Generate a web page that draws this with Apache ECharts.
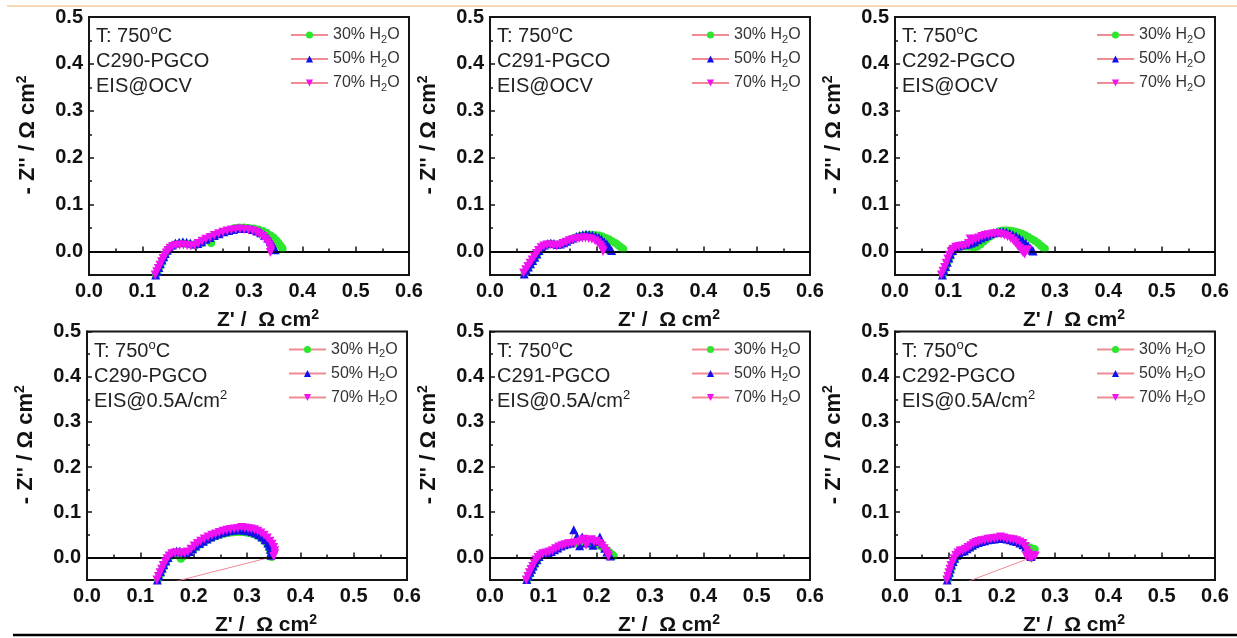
<!DOCTYPE html>
<html><head><meta charset="utf-8">
<script src="https://cdn.jsdelivr.net/npm/echarts@6/dist/echarts.min.js"></script>
<style>html,body{margin:0;padding:0;background:#fff}#c{width:1237px;height:638px}</style>
</head><body><div id="c"></div>
<script>
// ---------- labels ----------
const seriesNames = ['30% H2O', '50% H2O', '70% H2O'];
const sampleNames = ['C290-PGCO', 'C291-PGCO', 'C292-PGCO'];
const conditionLabels = ['EIS@OCV', 'EIS@0.5A/cm{sup|2}'];
const temperatureLabel = 'T: 750{sup|o}C';
const xAxisTitle = "Z' /  Ω cm{sup|2}";
const yAxisTitle = "- Z'' / Ω cm{sup|2}";
const yMajorTicks = [0, 0.1, 0.2, 0.3, 0.4, 0.5];
const yMinorTicks = [0.05, 0.15, 0.25, 0.35, 0.45];

// ---------- data: [Z', -Z''] ----------
const C290_OCV_30 = [[0.126,-0.050],[0.129,-0.042],[0.132,-0.034],[0.135,-0.026],[0.138,-0.018],[0.141,-0.011],[0.144,-0.004],[0.148,0.003],[0.152,0.009],[0.157,0.013],[0.163,0.016],[0.170,0.017],[0.177,0.017],[0.184,0.016],[0.191,0.015],[0.198,0.014],[0.205,0.016],[0.213,0.019],[0.229,0.018],[0.221,0.025],[0.229,0.030],[0.237,0.034],[0.246,0.038],[0.255,0.042],[0.264,0.046],[0.273,0.050],[0.282,0.051],[0.291,0.051],[0.300,0.050],[0.309,0.049],[0.318,0.047],[0.326,0.044],[0.333,0.040],[0.340,0.035],[0.346,0.030],[0.351,0.024],[0.355,0.019],[0.358,0.014],[0.361,0.009],[0.363,0.006]];
const C290_OCV_50 = [[0.125,-0.050],[0.128,-0.042],[0.131,-0.034],[0.134,-0.026],[0.137,-0.018],[0.140,-0.011],[0.143,-0.004],[0.147,0.003],[0.151,0.009],[0.156,0.014],[0.162,0.018],[0.169,0.020],[0.176,0.021],[0.183,0.020],[0.190,0.018],[0.197,0.016],[0.204,0.017],[0.211,0.021],[0.219,0.026],[0.227,0.030],[0.235,0.034],[0.244,0.038],[0.253,0.042],[0.262,0.045],[0.271,0.047],[0.280,0.049],[0.289,0.049],[0.298,0.049],[0.307,0.047],[0.315,0.044],[0.322,0.040],[0.329,0.035],[0.335,0.029],[0.340,0.022],[0.344,0.015],[0.347,0.009],[0.349,0.004]];
const C290_OCV_70 = [[0.124,-0.050],[0.127,-0.043],[0.130,-0.036],[0.133,-0.029],[0.136,-0.022],[0.139,-0.015],[0.142,-0.009],[0.145,-0.003],[0.148,0.002],[0.152,0.007],[0.157,0.011],[0.163,0.013],[0.170,0.014],[0.177,0.014],[0.184,0.013],[0.191,0.012],[0.198,0.013],[0.205,0.017],[0.212,0.022],[0.219,0.026],[0.227,0.030],[0.235,0.034],[0.243,0.038],[0.251,0.041],[0.259,0.044],[0.267,0.046],[0.275,0.047],[0.283,0.048],[0.291,0.047],[0.299,0.046],[0.307,0.044],[0.314,0.041],[0.320,0.037],[0.326,0.032],[0.331,0.026],[0.335,0.020],[0.338,0.014],[0.340,0.008],[0.341,0.003],[0.340,-0.002]];

const C291_OCV_30 = [[0.065,-0.047],[0.069,-0.039],[0.073,-0.032],[0.077,-0.025],[0.081,-0.018],[0.085,-0.011],[0.089,-0.004],[0.093,0.003],[0.098,0.009],[0.103,0.013],[0.109,0.015],[0.115,0.016],[0.121,0.015],[0.127,0.014],[0.133,0.016],[0.139,0.019],[0.145,0.022],[0.151,0.025],[0.157,0.028],[0.163,0.031],[0.169,0.033],[0.175,0.034],[0.181,0.035],[0.187,0.036],[0.193,0.036],[0.199,0.035],[0.205,0.034],[0.211,0.032],[0.217,0.029],[0.223,0.026],[0.229,0.022],[0.235,0.018],[0.240,0.014],[0.244,0.010],[0.248,0.007],[0.250,0.005]];
const C291_OCV_50 = [[0.064,-0.048],[0.068,-0.040],[0.072,-0.033],[0.076,-0.026],[0.080,-0.019],[0.084,-0.012],[0.088,-0.005],[0.092,0.002],[0.097,0.009],[0.102,0.014],[0.108,0.017],[0.114,0.018],[0.120,0.017],[0.126,0.015],[0.132,0.016],[0.138,0.019],[0.144,0.022],[0.150,0.026],[0.156,0.029],[0.162,0.032],[0.168,0.034],[0.174,0.036],[0.180,0.037],[0.186,0.036],[0.192,0.035],[0.198,0.033],[0.204,0.030],[0.209,0.026],[0.214,0.021],[0.219,0.016],[0.223,0.010],[0.226,0.005],[0.228,0.002]];
const C291_OCV_70 = [[0.063,-0.046],[0.067,-0.039],[0.071,-0.032],[0.075,-0.025],[0.079,-0.018],[0.083,-0.011],[0.087,-0.004],[0.091,0.002],[0.096,0.008],[0.101,0.012],[0.107,0.014],[0.113,0.014],[0.119,0.013],[0.125,0.012],[0.131,0.014],[0.137,0.017],[0.143,0.020],[0.149,0.023],[0.155,0.025],[0.161,0.027],[0.167,0.028],[0.173,0.029],[0.179,0.029],[0.185,0.028],[0.191,0.026],[0.197,0.023],[0.202,0.019],[0.206,0.014],[0.209,0.009],[0.211,0.004],[0.212,0.000]];

const C292_OCV_30 = [[0.090,-0.049],[0.093,-0.040],[0.096,-0.031],[0.099,-0.022],[0.102,-0.013],[0.105,-0.005],[0.109,0.002],[0.114,0.007],[0.120,0.010],[0.127,0.011],[0.134,0.011],[0.141,0.010],[0.148,0.009],[0.154,0.010],[0.160,0.015],[0.166,0.021],[0.172,0.027],[0.178,0.032],[0.184,0.036],[0.190,0.040],[0.196,0.043],[0.202,0.045],[0.208,0.045],[0.214,0.045],[0.220,0.044],[0.226,0.042],[0.232,0.040],[0.238,0.038],[0.244,0.035],[0.250,0.031],[0.256,0.027],[0.262,0.023],[0.268,0.018],[0.273,0.013],[0.277,0.009],[0.281,0.006]];
const C292_OCV_50 = [[0.089,-0.050],[0.092,-0.041],[0.095,-0.032],[0.098,-0.023],[0.101,-0.014],[0.104,-0.006],[0.108,0.002],[0.113,0.008],[0.119,0.012],[0.125,0.014],[0.131,0.015],[0.137,0.016],[0.143,0.018],[0.149,0.021],[0.155,0.025],[0.161,0.029],[0.167,0.032],[0.173,0.035],[0.179,0.038],[0.185,0.040],[0.191,0.041],[0.197,0.042],[0.203,0.042],[0.209,0.041],[0.215,0.039],[0.221,0.036],[0.227,0.033],[0.233,0.029],[0.239,0.024],[0.245,0.018],[0.250,0.012],[0.254,0.007],[0.257,0.003],[0.259,0.001]];
const C292_OCV_70 = [[0.087,-0.050],[0.090,-0.042],[0.093,-0.034],[0.096,-0.025],[0.099,-0.016],[0.102,-0.008],[0.105,-0.001],[0.109,0.005],[0.114,0.009],[0.120,0.011],[0.126,0.012],[0.132,0.013],[0.138,0.017],[0.141,0.027],[0.145,0.022],[0.151,0.026],[0.157,0.029],[0.163,0.032],[0.169,0.034],[0.175,0.036],[0.181,0.037],[0.187,0.038],[0.193,0.038],[0.199,0.037],[0.205,0.035],[0.211,0.032],[0.217,0.028],[0.222,0.023],[0.226,0.018],[0.230,0.012],[0.234,0.007],[0.237,0.002],[0.240,-0.002],[0.243,-0.005],[0.246,0.001],[0.249,0.004]];

const C290_05A_30 = [[0.133,-0.050],[0.136,-0.041],[0.139,-0.032],[0.142,-0.024],[0.145,-0.016],[0.149,-0.008],[0.153,-0.001],[0.158,0.004],[0.164,0.006],[0.170,0.004],[0.176,-0.003],[0.182,0.003],[0.188,0.008],[0.194,0.013],[0.200,0.019],[0.207,0.025],[0.214,0.030],[0.221,0.035],[0.228,0.040],[0.235,0.044],[0.242,0.047],[0.249,0.050],[0.256,0.052],[0.263,0.054],[0.270,0.055],[0.277,0.056],[0.284,0.056],[0.291,0.056],[0.298,0.055],[0.305,0.054],[0.312,0.052],[0.318,0.049],[0.324,0.045],[0.330,0.040],[0.335,0.034],[0.339,0.027],[0.342,0.020],[0.344,0.013],[0.345,0.006],[0.346,0.001],[0.010,-0.100]];
const C290_05A_50 = [[0.132,-0.050],[0.135,-0.041],[0.138,-0.032],[0.141,-0.024],[0.144,-0.016],[0.148,-0.008],[0.152,0.000],[0.157,0.007],[0.162,0.012],[0.168,0.014],[0.174,0.014],[0.180,0.012],[0.186,0.010],[0.192,0.013],[0.198,0.019],[0.204,0.025],[0.211,0.031],[0.218,0.036],[0.225,0.041],[0.232,0.045],[0.239,0.049],[0.246,0.052],[0.253,0.055],[0.260,0.057],[0.267,0.059],[0.274,0.060],[0.281,0.061],[0.288,0.061],[0.295,0.060],[0.302,0.059],[0.309,0.057],[0.316,0.054],[0.322,0.050],[0.328,0.045],[0.334,0.039],[0.339,0.032],[0.342,0.025],[0.344,0.018],[0.345,0.011],[0.345,0.005]];
const C290_05A_70 = [[0.131,-0.050],[0.134,-0.042],[0.137,-0.034],[0.140,-0.026],[0.143,-0.018],[0.147,-0.010],[0.150,-0.003],[0.154,0.003],[0.159,0.008],[0.165,0.010],[0.171,0.010],[0.177,0.009],[0.183,0.009],[0.189,0.012],[0.195,0.018],[0.201,0.025],[0.207,0.031],[0.213,0.036],[0.220,0.041],[0.227,0.045],[0.234,0.049],[0.241,0.052],[0.248,0.055],[0.255,0.058],[0.262,0.060],[0.269,0.062],[0.276,0.063],[0.283,0.064],[0.290,0.066],[0.296,0.065],[0.302,0.064],[0.308,0.063],[0.314,0.061],[0.320,0.058],[0.326,0.054],[0.332,0.049],[0.338,0.043],[0.343,0.036],[0.347,0.029],[0.350,0.022],[0.352,0.015],[0.352,0.008],[0.350,0.002]];

const C291_05A_30 = [[0.070,-0.049],[0.073,-0.041],[0.076,-0.033],[0.079,-0.026],[0.082,-0.019],[0.085,-0.012],[0.089,-0.005],[0.093,0.001],[0.098,0.006],[0.104,0.009],[0.110,0.011],[0.116,0.014],[0.122,0.018],[0.128,0.022],[0.134,0.025],[0.140,0.027],[0.146,0.029],[0.152,0.030],[0.158,0.031],[0.164,0.032],[0.170,0.033],[0.176,0.033],[0.182,0.033],[0.188,0.032],[0.194,0.031],[0.200,0.029],[0.206,0.026],[0.212,0.022],[0.218,0.017],[0.223,0.012],[0.227,0.008],[0.230,0.005],[0.232,0.003]];
const C291_05A_50 = [[0.069,-0.049],[0.072,-0.041],[0.075,-0.033],[0.078,-0.026],[0.081,-0.019],[0.084,-0.012],[0.088,-0.005],[0.092,0.002],[0.097,0.007],[0.103,0.010],[0.109,0.011],[0.115,0.013],[0.121,0.017],[0.127,0.021],[0.133,0.025],[0.139,0.028],[0.145,0.030],[0.151,0.032],[0.157,0.061],[0.163,0.047],[0.168,0.026],[0.173,0.045],[0.180,0.032],[0.187,0.038],[0.193,0.027],[0.199,0.035],[0.206,0.045],[0.211,0.030],[0.215,0.020],[0.219,0.012],[0.223,0.006],[0.226,0.003]];
const C291_05A_70 = [[0.068,-0.050],[0.071,-0.042],[0.074,-0.034],[0.077,-0.027],[0.080,-0.020],[0.083,-0.013],[0.086,-0.006],[0.090,0.000],[0.094,0.005],[0.099,0.008],[0.105,0.010],[0.111,0.012],[0.117,0.015],[0.123,0.019],[0.129,0.023],[0.135,0.026],[0.141,0.028],[0.147,0.030],[0.153,0.031],[0.159,0.032],[0.165,0.033],[0.171,0.036],[0.176,0.040],[0.180,0.027],[0.185,0.035],[0.190,0.039],[0.195,0.034],[0.200,0.036],[0.205,0.031],[0.210,0.025],[0.214,0.019],[0.218,0.013],[0.221,0.007],[0.222,0.002]];

const C292_05A_30 = [[0.099,-0.050],[0.101,-0.041],[0.103,-0.033],[0.105,-0.025],[0.107,-0.017],[0.110,-0.009],[0.113,-0.002],[0.117,0.004],[0.121,0.009],[0.126,0.012],[0.131,0.014],[0.136,0.018],[0.141,0.022],[0.146,0.026],[0.151,0.029],[0.157,0.032],[0.163,0.034],[0.169,0.036],[0.175,0.038],[0.181,0.039],[0.187,0.040],[0.193,0.041],[0.199,0.041],[0.205,0.041],[0.211,0.040],[0.217,0.038],[0.223,0.036],[0.229,0.034],[0.235,0.031],[0.241,0.028],[0.247,0.025],[0.253,0.022],[0.259,0.019],[0.262,0.018],[0.256,0.000],[0.032,-0.100]];
const C292_05A_50 = [[0.098,-0.050],[0.100,-0.041],[0.102,-0.033],[0.104,-0.025],[0.106,-0.017],[0.109,-0.009],[0.112,-0.002],[0.116,0.005],[0.120,0.010],[0.125,0.013],[0.130,0.015],[0.135,0.019],[0.140,0.023],[0.145,0.027],[0.150,0.030],[0.156,0.033],[0.162,0.035],[0.168,0.037],[0.174,0.039],[0.180,0.040],[0.186,0.041],[0.192,0.042],[0.198,0.042],[0.204,0.042],[0.210,0.041],[0.216,0.039],[0.222,0.037],[0.228,0.035],[0.234,0.032],[0.240,0.028],[0.245,0.023],[0.249,0.017],[0.252,0.011],[0.254,0.006],[0.255,0.002]];
const C292_05A_70 = [[0.097,-0.050],[0.099,-0.042],[0.101,-0.034],[0.103,-0.026],[0.105,-0.018],[0.108,-0.010],[0.111,-0.003],[0.114,0.004],[0.118,0.010],[0.122,0.014],[0.127,0.015],[0.132,0.018],[0.137,0.022],[0.142,0.026],[0.147,0.030],[0.152,0.033],[0.157,0.035],[0.162,0.037],[0.168,0.038],[0.174,0.040],[0.180,0.041],[0.186,0.042],[0.192,0.043],[0.198,0.045],[0.204,0.043],[0.210,0.041],[0.216,0.040],[0.222,0.039],[0.228,0.037],[0.234,0.034],[0.240,0.031],[0.244,0.024],[0.247,0.016],[0.250,0.009],[0.246,0.003],[0.252,0.000],[0.258,0.005],[0.263,0.003],[0.256,-0.002]];

const panelData = [
  [C290_OCV_30, C290_OCV_50, C290_OCV_70],
  [C291_OCV_30, C291_OCV_50, C291_OCV_70],
  [C292_OCV_30, C292_OCV_50, C292_OCV_70],
  [C290_05A_30, C290_05A_50, C290_05A_70],
  [C291_05A_30, C291_05A_50, C291_05A_70],
  [C292_05A_30, C292_05A_50, C292_05A_70]
];

// ---------- layout & style ----------
const FONT = '"Liberation Sans", Arial, Helvetica, sans-serif';
const AX = '#151515';
const colors = ['#2ee62e', '#1212e8', '#f012f0'];
const symbols = ['circle', 'triangle', 'triangle'];
const symbolRotates = [0, 0, 180];
const symbolSizes = [8, 9, 9];
const lineColor = '#f08a95';
const layout = [
  {left: 89, top: 17, width: 320, height: 258},
  {left: 490, top: 17, width: 320, height: 258},
  {left: 895, top: 17, width: 320, height: 258},
  {left: 87, top: 331.5, width: 320, height: 256},
  {left: 490, top: 331.5, width: 320, height: 256},
  {left: 895, top: 331.5, width: 320, height: 256}
];

const supRich = (size) => ({fontSize: size, lineHeight: size, verticalAlign: 'top', fontFamily: FONT});
const grids = [], xAxes = [], yAxes = [], series = [], legends = [], titles = [];

layout.forEach((g, i) => {
  const row = Math.floor(i / 3), col = i % 3;
  grids.push({left: g.left, top: g.top, width: g.width, height: g.height,
    show: true, borderColor: AX, borderWidth: 2, backgroundColor: 'transparent'});
  xAxes.push({
    gridIndex: i, type: 'value', min: 0, max: 0.6, interval: 0.1,
    axisLine: {show: true, lineStyle: {color: AX, width: 2}},
    axisTick: {show: true, inside: true, length: 5, lineStyle: {color: AX, width: 1.5}},
    minorTick: {show: true, splitNumber: 2, length: 3, lineStyle: {color: AX, width: 1.5}},
    splitLine: {show: false}, minorSplitLine: {show: false},
    axisLabel: {margin: 6, fontSize: 20, fontWeight: 'bold', color: '#111', fontFamily: FONT,
      formatter: v => v.toFixed(1)},
    name: xAxisTitle, nameLocation: 'middle', nameGap: 33,
    nameTextStyle: {fontSize: 21, fontWeight: 'bold', color: '#111', fontFamily: FONT, lineHeight: 24,
      padding: [0, 0, 0, 38],
      rich: {sup: Object.assign(supRich(14), {fontWeight: 'bold', color: '#111'})}}
  });
  yAxes.push({
    gridIndex: i, type: 'value', min: -0.05, max: 0.5, position: 'left',
    axisLine: {show: true, lineStyle: {color: AX, width: 2}},
    axisTick: {show: true, inside: true, length: 5, customValues: yMajorTicks, lineStyle: {color: AX, width: 1.5}},
    splitLine: {show: false},
    axisLabel: {margin: 6, customValues: yMajorTicks, fontSize: 20, fontWeight: 'bold', color: '#111', fontFamily: FONT,
      formatter: v => v.toFixed(1)},
    name: yAxisTitle, nameLocation: 'middle', nameGap: 48, nameRotate: 90,
    nameTextStyle: {fontSize: 22, fontWeight: 'bold', color: '#111', fontFamily: FONT, lineHeight: 26,
      padding: [0, 0, 0, 22],
      rich: {sup: Object.assign(supRich(14), {fontWeight: 'bold', color: '#111'})}}
  });
  yAxes.push({
    gridIndex: i, type: 'value', min: -0.05, max: 0.5, position: 'left',
    axisLine: {show: false},
    axisTick: {show: true, inside: true, length: 3, customValues: yMinorTicks, lineStyle: {color: AX, width: 1.5}},
    axisLabel: {show: false}, splitLine: {show: false}
  });
  panelData[i].forEach((d, k) => {
    const s = {
      type: 'line', name: seriesNames[k], xAxisIndex: i, yAxisIndex: 2 * i, data: d,
      symbol: symbols[k], symbolRotate: symbolRotates[k], symbolSize: symbolSizes[k],
      showAllSymbol: true, clip: true, animation: false, silent: true,
      itemStyle: {color: colors[k]}, lineStyle: {color: lineColor, width: 1}, z: 3 + k
    };
    if (k === 0) {
      s.markLine = {silent: true, symbol: 'none', animation: false, label: {show: false},
        lineStyle: {color: '#000', width: 1.5, type: 'solid'}, data: [{yAxis: 0}]};
    }
    series.push(s);
  });
  legends.push({
    left: g.left + 201, top: g.top + 8, orient: 'vertical', padding: 0,
    itemWidth: 37, itemHeight: 9, itemGap: 4, selectedMode: false, data: seriesNames,
    formatter: n => n.replace('H2O', 'H{sub|2}O'),
    textStyle: {fontSize: 16, color: '#333', fontFamily: FONT, lineHeight: 20,
      rich: {sub: {fontSize: 11, lineHeight: 11, verticalAlign: 'bottom', color: '#333', fontFamily: FONT}}}
  });
  titles.push({
    left: g.left + 7, top: g.top + 7, padding: 0,
    text: temperatureLabel + '\n' + sampleNames[col] + '\n' + conditionLabels[row],
    textStyle: {fontSize: 20, fontWeight: 'normal', color: '#222', fontFamily: FONT, lineHeight: 25,
      rich: {sup: Object.assign(supRich(13), {color: '#222'})}}
  });
});

const chart = echarts.init(document.getElementById('c'), null, {renderer: 'canvas'});
chart.setOption({
  backgroundColor: '#fff',
  animation: false,
  title: titles,
  legend: legends,
  grid: grids,
  xAxis: xAxes,
  yAxis: yAxes,
  series: series,
  graphic: [
    {type: 'line', z: 100, shape: {x1: 7, y1: 6, x2: 1237, y2: 6}, style: {stroke: '#f3cc9a', lineWidth: 1.5}},
    {type: 'rect', z: 100, shape: {x: 0, y: 634, width: 1237, height: 4}, style: {fill: '#fff'}},
    {type: 'line', z: 101, shape: {x1: 13, y1: 635, x2: 1237, y2: 635}, style: {stroke: '#000', lineWidth: 2.5}}
  ]
});
</script>
</body></html>
